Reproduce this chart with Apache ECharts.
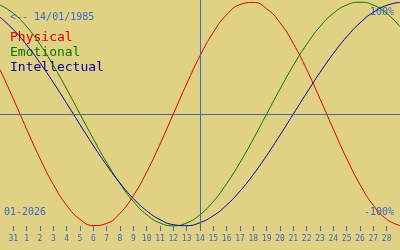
<!DOCTYPE html>
<html>
<head>
<meta charset="utf-8">
<script src="https://cdn.jsdelivr.net/npm/echarts@6/dist/echarts.min.js"></script>
<style>html,body{margin:0;padding:0;background:#e1d184;}#c{width:400px;height:250px;}</style>
</head>
<body>
<div id="c"></div>
<script>
// Day labels for tick positions 1..29 (position 0 = 30 Dec, 15 = today 14 Jan)
var dayLabels = ['31','1','2','3','4','5','6','7','8','9','10','11','12','13','14','15','16','17','18','19','20','21','22','23','24','25','26','27','28'];
var todayPos = 15;
// Daily values, positions 0..30
var physical = [0.398,0.136,-0.136,-0.398,-0.631,-0.817,-0.942,-0.998,-0.979,-0.888,-0.731,-0.520,-0.270,0,0.270,0.520,0.731,0.888,0.979,0.998,0.942,0.817,0.631,0.398,0.136,-0.136,-0.398,-0.631,-0.817,-0.942,-0.998];
var emotional = [0.975,0.901,0.782,0.623,0.434,0.223,0,-0.223,-0.434,-0.623,-0.782,-0.901,-0.975,-1,-0.975,-0.901,-0.782,-0.623,-0.434,-0.223,0,0.223,0.434,0.623,0.782,0.901,0.975,1,0.975,0.901,0.782];
var intellectual = [0.866,0.756,0.618,0.458,0.282,0.095,-0.095,-0.282,-0.458,-0.618,-0.756,-0.866,-0.945,-0.990,-0.999,-0.972,-0.910,-0.815,-0.690,-0.541,-0.372,-0.189,0,0.189,0.372,0.541,0.690,0.815,0.910,0.972,0.999];
var seriesNames = ['Physical','Emotional','Intellectual'];
var birthLabel = '<-- 14/01/1985';
var monthLabel = '01-2026';

var BLUE = '#3a6bc4';
var COLORS = ['#dc0000','#0a7400','#000090'];
var FONT = '"DejaVu Sans Mono", monospace';

function pts(arr){ return arr.map(function(v,i){ return [i, v]; }); }
var tickVals = dayLabels.map(function(_, i){ return i + 1; });

var chart = echarts.init(document.getElementById('c'), null, {renderer:'canvas'});
var lineSeries = [physical, emotional, intellectual].map(function(arr, k){
  return {
    type:'line', name: seriesNames[k], data: pts(arr), smooth: true, showSymbol:false,
    lineStyle:{color: COLORS[k], width:1}, silent:true, animation:false, z: 3
  };
});
lineSeries[0].markLine = {
  silent:true, symbol:'none', animation:false, label:{show:false},
  data:[
    {yAxis:0, lineStyle:{color:'#4a6a92', width:1, type:'solid'}},
    {xAxis:todayPos, lineStyle:{color:BLUE, width:1, type:'solid'}}
  ]
};

chart.setOption({
  backgroundColor:'#e1d184',
  animation:false,
  grid:{left:0, right:0, top:0, bottom:22},
  xAxis:{
    type:'value', min:0, max:30, offset:-2,
    axisLine:{show:false, onZero:false}, splitLine:{show:false},
    axisTick:{show:true, customValues: tickVals, length:5, lineStyle:{color:BLUE, width:1}},
    axisLabel:{customValues: tickVals, color:BLUE, fontFamily:FONT, fontSize:8, margin:9,
      formatter:function(v){ return dayLabels[Math.round(v)-1] || ''; }}
  },
  yAxis:{type:'value', min:-1.02, max:1.02, show:false, splitLine:{show:false}},
  series: lineSeries,
  graphic:[
    {type:'text', left:10, top:12, style:{text:birthLabel, fill:BLUE, font:'10px ' + FONT}},
    {type:'text', left:10, top:31, style:{text:seriesNames[0], fill:COLORS[0], font:'13px ' + FONT}},
    {type:'text', left:10, top:46, style:{text:seriesNames[1], fill:COLORS[1], font:'13px ' + FONT}},
    {type:'text', left:10, top:61, style:{text:seriesNames[2], fill:COLORS[2], font:'13px ' + FONT}},
    {type:'text', right:6, top:7, style:{text:'100%', fill:BLUE, font:'10px ' + FONT}},
    {type:'text', right:6, top:207, style:{text:'-100%', fill:BLUE, font:'10px ' + FONT}},
    {type:'text', left:4, top:207, style:{text:monthLabel, fill:BLUE, font:'10px ' + FONT}}
  ]
});
</script>
</body>
</html>
